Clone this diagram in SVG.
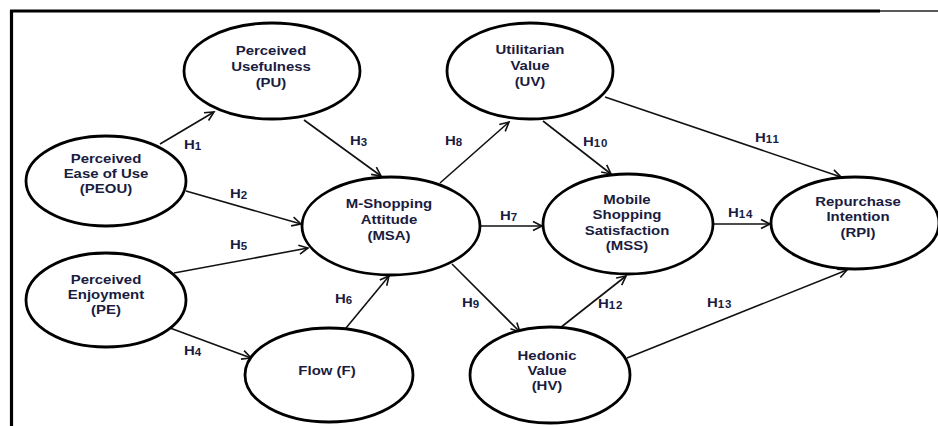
<svg xmlns="http://www.w3.org/2000/svg" width="938" height="426" viewBox="0 0 938 426">
<style>
.n{fill:#fff;stroke:#000;stroke-width:2.8}
.t{font-family:"Liberation Sans",Arial,sans-serif;font-weight:bold;font-size:13px;fill:#1a1c40;text-anchor:middle}
.h{font-family:"Liberation Sans",Arial,sans-serif;font-weight:bold;font-size:13px;fill:#1a1c40}
.s{font-size:10px;letter-spacing:0.8px}
.c{stroke:#111;stroke-width:1.6;fill:none;marker-end:url(#ah)}
</style>
<defs>
<marker id="ah" markerUnits="userSpaceOnUse" markerWidth="12" markerHeight="12" refX="10" refY="5" orient="auto" viewBox="0 0 12 10">
<path d="M1,0.5 L10,5 L1,9.5" fill="none" stroke="#111" stroke-width="1.6"/>
</marker>
</defs>
<rect width="938" height="426" fill="#fff"/>
<g id="frame">
<line x1="10" y1="11" x2="880" y2="11" stroke="#000" stroke-width="3.2"/>
<line x1="880" y1="11" x2="938" y2="11" stroke="#222" stroke-width="1.6"/>
<line x1="11.5" y1="10" x2="11.5" y2="426" stroke="#000" stroke-width="3.2"/>
</g>
<g id="connectors">
<line class="c" x1="160" y1="144" x2="214" y2="112"/>
<line class="c" x1="186" y1="191" x2="301" y2="224"/>
<line class="c" x1="304" y1="120" x2="381" y2="176"/>
<line class="c" x1="174" y1="273" x2="308" y2="248"/>
<line class="c" x1="170" y1="328" x2="251" y2="358"/>
<line class="c" x1="346" y1="328" x2="389" y2="276"/>
<line class="c" x1="440" y1="183" x2="509" y2="122"/>
<line class="c" x1="480" y1="226" x2="542" y2="226"/>
<line class="c" x1="452" y1="264" x2="520" y2="332"/>
<line class="c" x1="543" y1="121" x2="611" y2="174"/>
<line class="c" x1="605" y1="97" x2="841" y2="177"/>
<line class="c" x1="560" y1="328" x2="626" y2="276"/>
<line class="c" x1="627" y1="358" x2="847" y2="270"/>
<line class="c" x1="713" y1="224" x2="770" y2="224"/>
</g>
<g id="labels">
<text class="h" transform="translate(184,149) scale(1.15,1)">H<tspan class="s" dy="1">1</tspan></text>
<text class="h" transform="translate(230,198) scale(1.15,1)">H<tspan class="s" dy="1">2</tspan></text>
<text class="h" transform="translate(350,145) scale(1.15,1)">H<tspan class="s" dy="1">3</tspan></text>
<text class="h" transform="translate(184,355) scale(1.15,1)">H<tspan class="s" dy="1">4</tspan></text>
<text class="h" transform="translate(230,249) scale(1.15,1)">H<tspan class="s" dy="1">5</tspan></text>
<text class="h" transform="translate(335,303) scale(1.15,1)">H<tspan class="s" dy="1">6</tspan></text>
<text class="h" transform="translate(500,220) scale(1.15,1)">H<tspan class="s" dy="1">7</tspan></text>
<text class="h" transform="translate(445,145) scale(1.15,1)">H<tspan class="s" dy="1">8</tspan></text>
<text class="h" transform="translate(462,307) scale(1.15,1)">H<tspan class="s" dy="1">9</tspan></text>
<text class="h" transform="translate(583,146) scale(1.15,1)">H<tspan class="s" dy="1">10</tspan></text>
<text class="h" transform="translate(755,142) scale(1.15,1)">H<tspan class="s" dy="1">11</tspan></text>
<text class="h" transform="translate(598,308) scale(1.15,1)">H<tspan class="s" dy="1">12</tspan></text>
<text class="h" transform="translate(707,307) scale(1.15,1)">H<tspan class="s" dy="1">13</tspan></text>
<text class="h" transform="translate(728,217) scale(1.15,1)">H<tspan class="s" dy="1">14</tspan></text>
</g>
<g id="PU">
<ellipse class="n" cx="272" cy="71" rx="88" ry="48"/>
<text class="t" transform="translate(271,55) scale(1.15,1)">Perceived</text>
<text class="t" transform="translate(271,71) scale(1.15,1)">Usefulness</text>
<text class="t" transform="translate(271,87) scale(1.15,1)">(PU)</text>
</g>
<g id="PEOU">
<ellipse class="n" cx="106" cy="181" rx="80" ry="45"/>
<text class="t" transform="translate(106,163) scale(1.15,1)">Perceived</text>
<text class="t" transform="translate(106,178) scale(1.15,1)">Ease of Use</text>
<text class="t" transform="translate(106,193) scale(1.15,1)">(PEOU)</text>
</g>
<g id="PE">
<ellipse class="n" cx="106" cy="300" rx="80" ry="47"/>
<text class="t" transform="translate(106,284) scale(1.15,1)">Perceived</text>
<text class="t" transform="translate(106,299) scale(1.15,1)">Enjoyment</text>
<text class="t" transform="translate(106,314) scale(1.15,1)">(PE)</text>
</g>
<g id="F">
<ellipse class="n" cx="329" cy="375" rx="84" ry="47"/>
<text class="t" transform="translate(327,375) scale(1.15,1)">Flow (F)</text>
</g>
<g id="MSA">
<ellipse class="n" cx="391" cy="226" rx="89" ry="49"/>
<text class="t" transform="translate(389,208) scale(1.15,1)">M-Shopping</text>
<text class="t" transform="translate(389,224) scale(1.15,1)">Attitude</text>
<text class="t" transform="translate(389,240) scale(1.15,1)">(MSA)</text>
</g>
<g id="UV">
<ellipse class="n" cx="530" cy="71" rx="83" ry="48"/>
<text class="t" transform="translate(530,54) scale(1.15,1)">Utilitarian</text>
<text class="t" transform="translate(530,70) scale(1.15,1)">Value</text>
<text class="t" transform="translate(530,86) scale(1.15,1)">(UV)</text>
</g>
<g id="MSS">
<ellipse class="n" cx="628" cy="224" rx="85" ry="50"/>
<text class="t" transform="translate(627,204) scale(1.15,1)">Mobile</text>
<text class="t" transform="translate(627,219) scale(1.15,1)">Shopping</text>
<text class="t" transform="translate(627,235) scale(1.15,1)">Satisfaction</text>
<text class="t" transform="translate(627,250) scale(1.15,1)">(MSS)</text>
</g>
<g id="RPI">
<ellipse class="n" cx="855" cy="223" rx="84" ry="46"/>
<text class="t" transform="translate(858,206) scale(1.15,1)">Repurchase</text>
<text class="t" transform="translate(858,221) scale(1.15,1)">Intention</text>
<text class="t" transform="translate(858,237) scale(1.15,1)">(RPI)</text>
</g>
<g id="HV">
<ellipse class="n" cx="550" cy="375" rx="80" ry="48"/>
<text class="t" transform="translate(547,360) scale(1.15,1)">Hedonic</text>
<text class="t" transform="translate(547,375) scale(1.15,1)">Value</text>
<text class="t" transform="translate(547,390) scale(1.15,1)">(HV)</text>
</g>
</svg>
